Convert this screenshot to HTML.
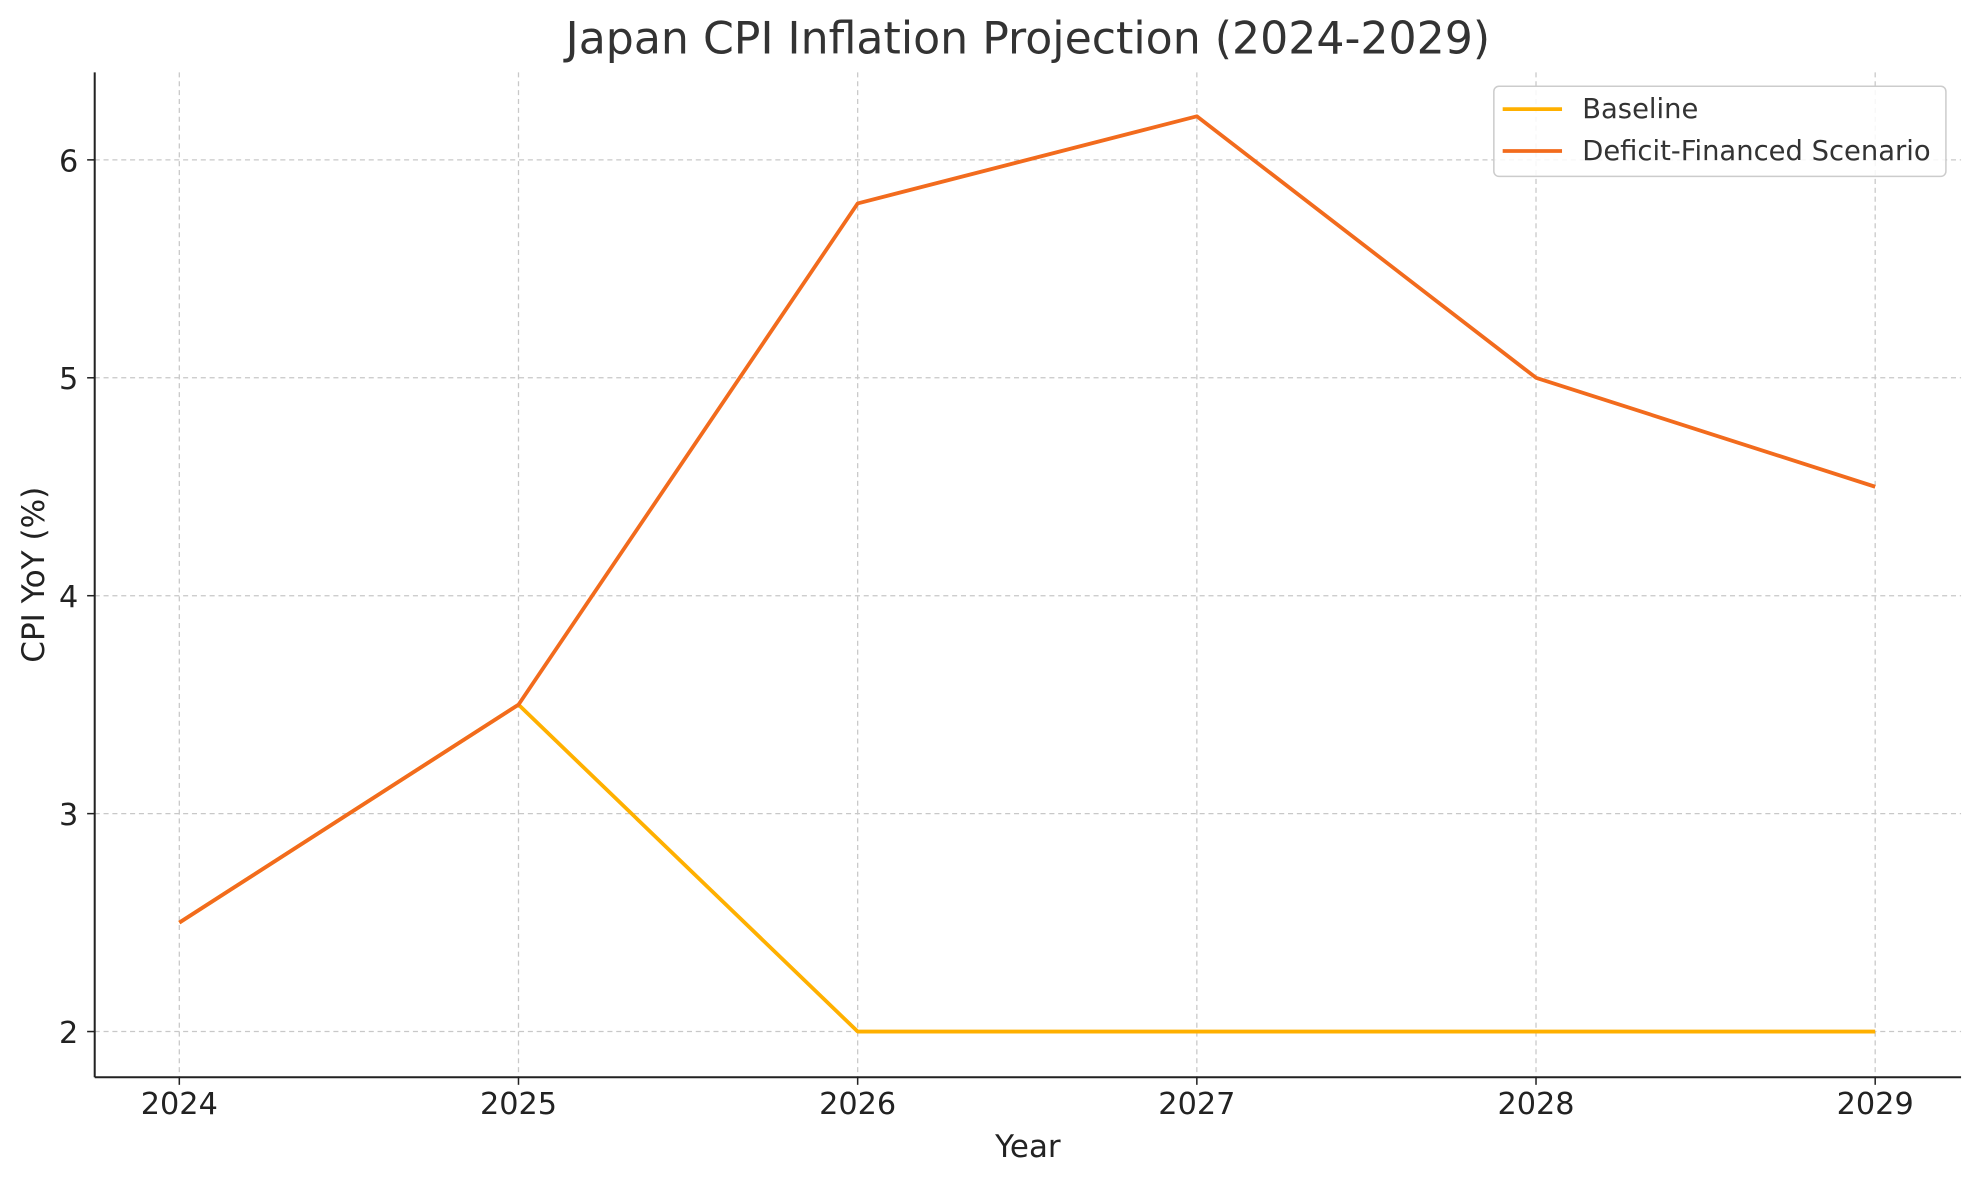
<!DOCTYPE html>
<html>
<head>
<meta charset="utf-8">
<style>
html,body{margin:0;padding:0;background:#fff;}
svg{display:block;font-family:"DejaVu Sans","Liberation Sans",sans-serif;}
</style>
</head>
<body>
<svg id="chart" width="1980" height="1180" viewBox="0 0 1568 930" preserveAspectRatio="none" xmlns="http://www.w3.org/2000/svg">
  <rect x="0" y="0" width="1568" height="930" fill="#fff"/>
  <text x="814" y="42" text-anchor="middle" font-size="35" fill="#333">Japan CPI Inflation Projection (2024-2029)</text>
  <g id="grid"></g>
  <g id="series"></g>
  <line x1="75" y1="57" x2="75" y2="849" stroke="#222" stroke-width="1.6"/>
  <line x1="75" y1="849" x2="1553" y2="849" stroke="#222" stroke-width="1.6"/>
  <g id="ticks"></g>
  <text x="814" y="912" text-anchor="middle" font-size="24.5" fill="#222">Year</text>
  <text x="35" y="453" text-anchor="middle" font-size="24.5" fill="#222" transform="rotate(-90 35 453)">CPI YoY (%)</text>
  <g>
    <rect x="1183" y="68" width="358" height="71" rx="4" fill="#fff" fill-opacity="0.85" stroke="#ccc" stroke-width="1.2"/>
    <line x1="1190" y1="86" x2="1237" y2="86" stroke="#FFB000" stroke-width="3"/>
    <text x="1253" y="93" font-size="21.7" fill="#333">Baseline</text>
    <line x1="1190" y1="119" x2="1237" y2="119" stroke="#F26B1D" stroke-width="3"/>
    <text x="1253" y="126" font-size="21.7" fill="#333">Deficit-Financed Scenario</text>
  </g>
</svg>
<script>
const years = [2024, 2025, 2026, 2027, 2028, 2029];
const baseline = [2.5, 3.5, 2.0, 2.0, 2.0, 2.0];
const deficit = [2.5, 3.5, 5.8, 6.2, 5.0, 4.5];
const yTicks = [2, 3, 4, 5, 6];

const NS = "http://www.w3.org/2000/svg";
function xs(v){ return 142 + (v - 2024) * (1485 - 142) / 5; }
function ys(v){ return 813 - (v - 2) * (813 - 126) / 4; }
function mk(tag, attrs, parent){
  const e = document.createElementNS(NS, tag);
  for (const k in attrs) e.setAttribute(k, attrs[k]);
  parent.appendChild(e);
  return e;
}
const grid = document.getElementById('grid');
const ticks = document.getElementById('ticks');
const series = document.getElementById('series');

years.forEach(y => {
  const x = xs(y);
  const g = mk('line', {x1:x, y1:57, x2:x, y2:849, stroke:'#c8c8c8', 'stroke-width':1, 'stroke-dasharray':'4,3'}, grid);
  
  
  mk('line', {x1:x, y1:849, x2:x, y2:855, stroke:'#222', 'stroke-width':1.2}, ticks);
  const t = mk('text', {x:x, y:878, 'text-anchor':'middle', 'font-size':24, fill:'#222'}, ticks);
  
  
  t.textContent = y;
});
yTicks.forEach(v => {
  const y = ys(v);
  const g = mk('line', {x1:75, y1:y, x2:1553, y2:y, stroke:'#c8c8c8', 'stroke-width':1, 'stroke-dasharray':'4,3'}, grid);
  
  
  mk('line', {x1:69, y1:y, x2:75, y2:y, stroke:'#222', 'stroke-width':1.2}, ticks);
  const t = mk('text', {x:62, y:y + 9, 'text-anchor':'end', 'font-size':24, fill:'#222'}, ticks);
  
  
  t.textContent = v;
});
function line(vals, color, name){
  const pts = vals.map((v, i) => xs(years[i]) + ',' + ys(v)).join(' ');
  const p = mk('polyline', {points:pts, fill:'none', stroke:color, 'stroke-width':3, 'stroke-linejoin':'round'}, series);
  
  
}
line(baseline, '#FFB000', 'baseline-line');
line(deficit, '#F26B1D', 'deficit-financed-line');
</script>
</body>
</html>
